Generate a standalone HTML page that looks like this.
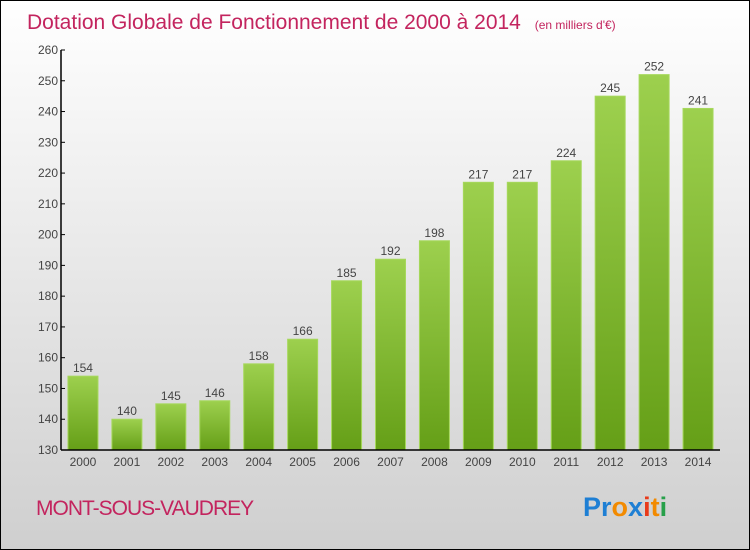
<!DOCTYPE html>
<html><head><meta charset="utf-8"><style>
body{margin:0;width:750px;height:550px;overflow:hidden}
svg{display:block}
text{font-family:"Liberation Sans",sans-serif}
</style></head><body>
<svg id="c" width="750" height="550">
<defs>
<linearGradient id="bg" x1="0" y1="0" x2="0" y2="1"><stop offset="0" stop-color="#ffffff"/><stop offset="1" stop-color="#cfcfcf"/></linearGradient>
<linearGradient id="bar" x1="0" y1="0" x2="0" y2="1"><stop offset="0" stop-color="#9dd04e"/><stop offset="1" stop-color="#659f17"/></linearGradient>
</defs>
<rect x="0.5" y="0.5" width="749" height="549" fill="url(#bg)" stroke="#000"/>
<text x="27" y="29" font-size="21" fill="#c3245e">Dotation Globale de Fonctionnement de 2000 à 2014 <tspan font-size="12" dx="8">(en milliers d'€)</tspan></text>
<g id="plot"></g>
<text x="36" y="515" font-size="21" fill="#c3245e" letter-spacing="-1">MONT-SOUS-VAUDREY</text>
<text x="583" y="516" font-size="27" font-weight="bold"><tspan fill="#1e7fd4">Pr</tspan><tspan fill="#f28a00">o</tspan><tspan fill="#1e7fd4">x</tspan><tspan fill="#e83a1a">i</tspan><tspan fill="#f28a00">t</tspan><tspan fill="#27a04a">i</tspan></text>
</svg>
<script>
const years=["2000","2001","2002","2003","2004","2005","2006","2007","2008","2009","2010","2011","2012","2013","2014"];
const values=[154,140,145,146,158,166,185,192,198,217,217,224,245,252,241];
const yTicks=[130,140,150,160,170,180,190,200,210,220,230,240,250,260];
const NS="http://www.w3.org/2000/svg";
const g=document.getElementById('plot');
const x0=61,x1=720,yB=450,yT=50,vMin=130,vMax=260;
const y=v=>yB-(v-vMin)/(vMax-vMin)*(yB-yT);
const step=(x1-x0)/years.length;
const xc=i=>x0+step*(i+0.5);
function mk(t,a){const e=document.createElementNS(NS,t);for(const k in a)e.setAttribute(k,a[k]);g.appendChild(e);return e;}
yTicks.forEach(v=>{
 const l=mk('line',{x1:x0,x2:x0+4,y1:y(v),y2:y(v),stroke:'#000'});
 
 
 const t=mk('text',{x:x0-3,y:y(v)+4,'font-size':12,'text-anchor':'end',fill:'#444'});
 t.textContent=v;
 
 
});
years.forEach((yr,i)=>{
 const v=values[i];
 const r=mk('rect',{x:xc(i)-15,y:y(v),width:30,height:yB-y(v),fill:'url(#bar)',stroke:'#a6d85c','stroke-width':1});
 
 
 const t=mk('text',{x:xc(i),y:y(v)-4,'font-size':12,'text-anchor':'middle',fill:'#444'});
 t.textContent=v;
 
 
 const tx=mk('text',{x:xc(i),y:yB+16,'font-size':12,'text-anchor':'middle',fill:'#444'});
 tx.textContent=yr;
 
 
});
const ay=mk('line',{x1:x0,x2:x0,y1:yT,y2:yB,stroke:'#000','stroke-width':1.5});


const ax=mk('line',{x1:x0,x2:x1,y1:yB,y2:yB,stroke:'#000','stroke-width':1.5});


</script>
</body></html>
